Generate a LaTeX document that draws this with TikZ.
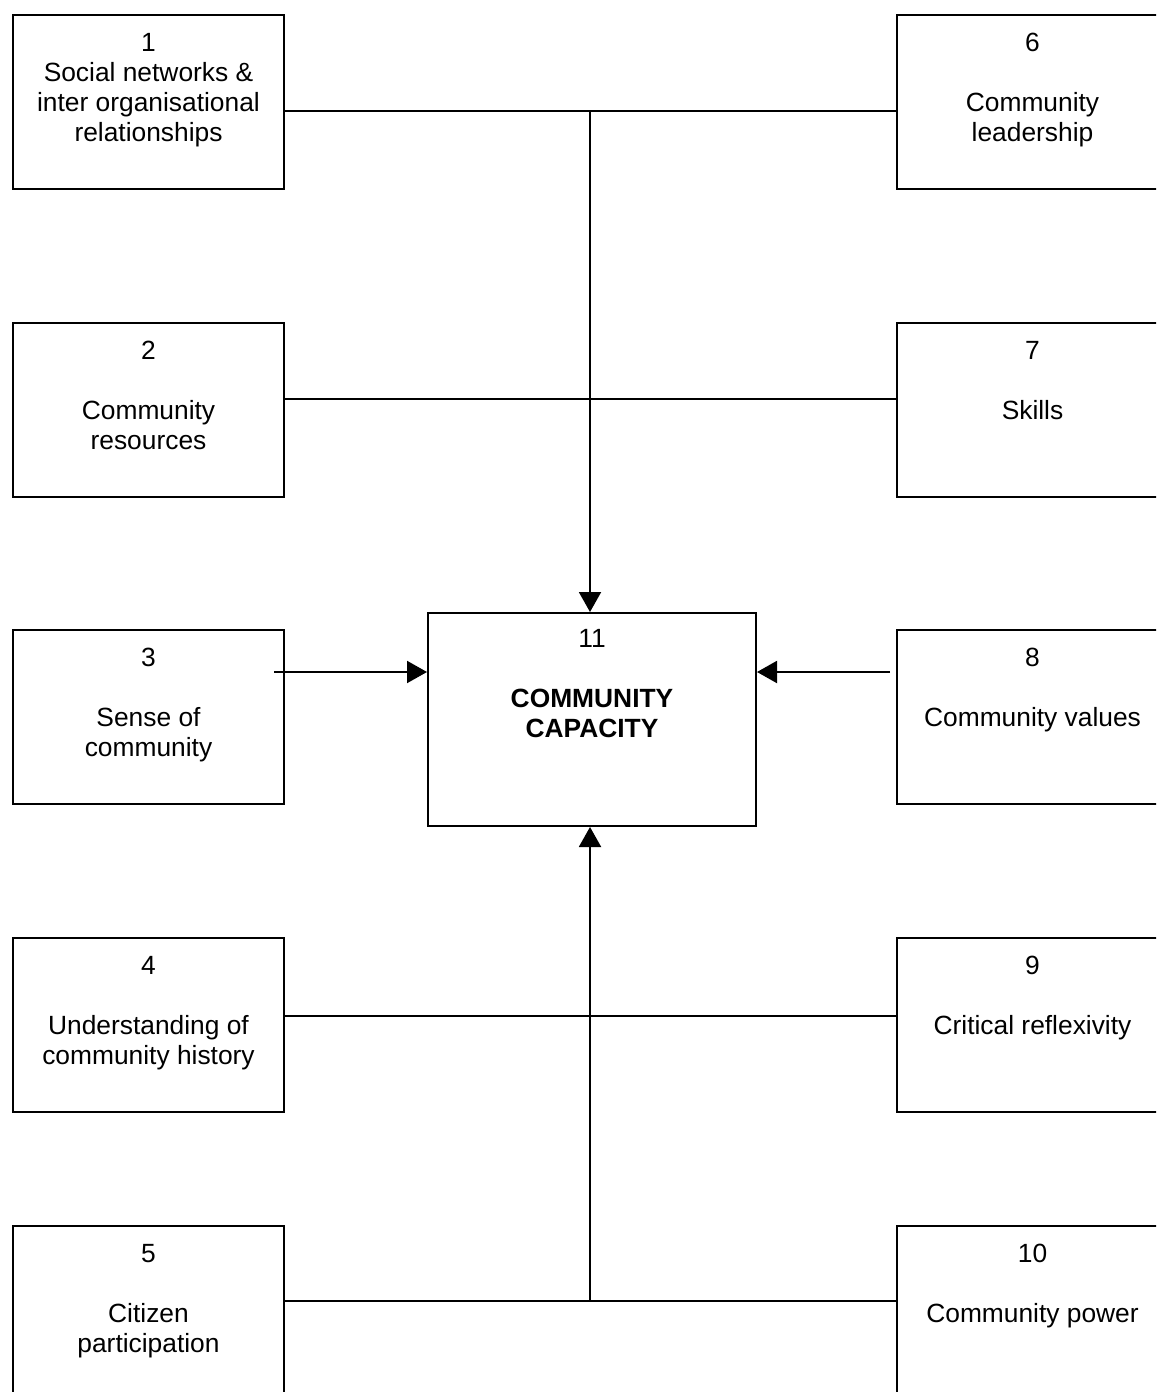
\documentclass[tikz,border=0pt]{standalone}
\usepackage{fontspec}
\setmainfont{Liberation Sans}
\usetikzlibrary{arrows.meta}
\tikzset{
	factor/.style={draw,line width=0.04cm,minimum width=5.42cm,minimum height=3.48cm,inner sep=0,anchor=north west},
	core/.style={draw,line width=0.04cm,minimum width=6.56cm,minimum height=4.26cm,inner sep=0,anchor=north west},
	boxtext/.style={align=center,anchor=north,inner sep=0,font=\fontsize{15}{17}\selectfont}
}
\begin{document}
\begin{tikzpicture}[
	>={Triangle[length=0.4cm,width=0.44cm]},
	line width=0.04cm,
	line join=miter
	]
	\useasboundingbox (0,0) rectangle (23.12,-27.84);
	\clip (0,0) rectangle (23.12,-27.84);
	% left column
	\node[factor] (b1) at (0.24,-0.28) {};
	\node[factor] (b2) at (0.24,-6.44) {};
	\node[factor] (b3) at (0.24,-12.58) {};
	\node[factor] (b4) at (0.24,-18.74) {};
	\node[factor] (b5) at (0.24,-24.5) {};
	% right column
	\node[factor] (b6) at (17.92,-0.28) {};
	\node[factor] (b7) at (17.92,-6.44) {};
	\node[factor] (b8) at (17.92,-12.58) {};
	\node[factor] (b9) at (17.92,-18.74) {};
	\node[factor] (b10) at (17.92,-24.5) {};
	% centre
	\node[core] (cc) at (8.54,-12.24) {};
	% texts
	\node[boxtext] (t1) at ([yshift=-0.31cm]b1.north) {\strut 1\\Social networks \&\\inter organisational\\relationships};
	\node[boxtext] (t2) at ([yshift=-0.31cm]b2.north) {\strut 2\\[17pt]Community\\resources};
	\node[boxtext] (t3) at ([yshift=-0.31cm]b3.north) {\strut 3\\[17pt]Sense of\\community};
	\node[boxtext] (t4) at ([yshift=-0.31cm]b4.north) {\strut 4\\[17pt]Understanding of\\community history};
	\node[boxtext] (t5) at ([yshift=-0.31cm]b5.north) {\strut 5\\[17pt]Citizen\\participation};
	\node[boxtext] (t6) at ([yshift=-0.31cm]b6.north) {\strut 6\\[17pt]Community\\leadership};
	\node[boxtext] (t7) at ([yshift=-0.31cm]b7.north) {\strut 7\\[17pt]Skills};
	\node[boxtext] (t8) at ([yshift=-0.31cm]b8.north) {\strut 8\\[17pt]Community values};
	\node[boxtext] (t9) at ([yshift=-0.31cm]b9.north) {\strut 9\\[17pt]Critical reflexivity};
	\node[boxtext] (t10) at ([yshift=-0.31cm]b10.north) {\strut 10\\[17pt]Community power};
	\node[boxtext] (tc) at ([yshift=-0.27cm]cc.north) {\strut 11\\[17pt]\bfseries COMMUNITY\\\bfseries CAPACITY};
	% junctions
	\coordinate (j1) at (11.8,-2.22);
	\coordinate (j2) at (11.8,-7.98);
	\coordinate (j3) at (11.8,-13.44);
	\coordinate (j4) at (11.8,-20.32);
	\coordinate (j5) at (11.8,-26.02);
	\coordinate (s3) at (5.48,-13.44);
	\coordinate (s8) at (17.8,-13.44);
	% connectors
	\draw (b1.east |- j1) -- (b6.west |- j1);
	\draw (b2.east |- j2) -- (b7.west |- j2);
	\draw (b4.east |- j4) -- (b9.west |- j4);
	\draw (b5.east |- j5) -- (b10.west |- j5);
	\draw[->] (j1) -- (j1 |- cc.north);
	\draw[->] (j5) -- (j5 |- cc.south);
	\draw[->] (s3) -- (cc.west |- s3);
	\draw[->] (s8) -- (cc.east |- s8);
\end{tikzpicture}
\end{document}
